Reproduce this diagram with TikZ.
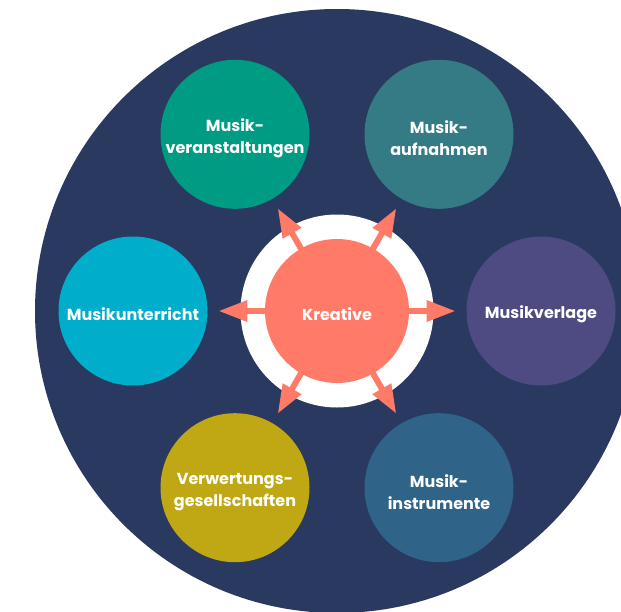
\documentclass[tikz,border=0pt]{standalone}
\usepackage{fontspec}
\setmainfont{Poppins}
\usetikzlibrary{arrows.meta}
\definecolor{navybg}{HTML}{2A3960}
\definecolor{coral}{HTML}{FF7B68}
\definecolor{cgreen}{HTML}{009B83}
\definecolor{cteal}{HTML}{357B86}
\definecolor{ccyan}{HTML}{00ADCA}
\definecolor{cpurple}{HTML}{4E4A82}
\definecolor{colive}{HTML}{C0A714}
\definecolor{cblue}{HTML}{2F6387}
\tikzset{
  bub/.style={circle, minimum size=111.75pt, inner sep=0pt},
  txt/.style={inner sep=0pt, text=white, align=center,
    font=\bfseries\fontsize{12}{16.5}\selectfont},
  arr/.style={draw=coral, line width=4.5pt,
    -{Triangle[length=21.75pt,width=15pt]}, shorten >=7.9pt, shorten <=-3pt}
}
\begin{document}
\begin{tikzpicture}[x=0.75pt,y=-0.75pt]
\useasboundingbox (0,0) rectangle (621,611);
\clip (0,0) rectangle (621,611);
\fill[navybg] (337,311) circle[radius=302];
\coordinate (c) at (337,311);
\fill[white] (c) circle[radius=96.5];
\node[bub, fill=cgreen]  (n1) at (235,134.3) {};
\node[bub, fill=cteal]   (n2) at (439,134.3) {};
\node[bub, fill=cpurple] (n3) at (541,311) {};
\node[bub, fill=cblue]   (n4) at (439,487.7) {};
\node[bub, fill=colive]  (n5) at (235,487.7) {};
\node[bub, fill=ccyan]   (n6) at (133,311) {};
\node[bub, fill=coral, minimum size=108pt] (k) at (c) {};
\foreach \n in {n1,n2,n3,n4,n5,n6}{
  \draw[arr] (k) -- (\n);
}
\node[txt] (t1) at ([yshift=-3pt]n1.center) {Musik-\\veranstaltungen};
\node[txt] (t2) at ([yshift=-3pt]n2.center) {Musik-\\aufnahmen};
\node[txt] (t3) at ([yshift=-2.5pt]n3.center) {Musikverlage};
\node[txt] (t4) at ([yshift=-3pt]n4.center) {Musik-\\instrumente};
\node[txt] (t5) at ([yshift=-3pt]n5.center) {Verwertungs-\\gesellschaften};
\node[txt] (t6) at ([yshift=-2.5pt]n6.center) {Musikunterricht};
\node[txt] (tk) at ([yshift=-2.5pt]k.center) {Kreative};
\end{tikzpicture}
\end{document}
